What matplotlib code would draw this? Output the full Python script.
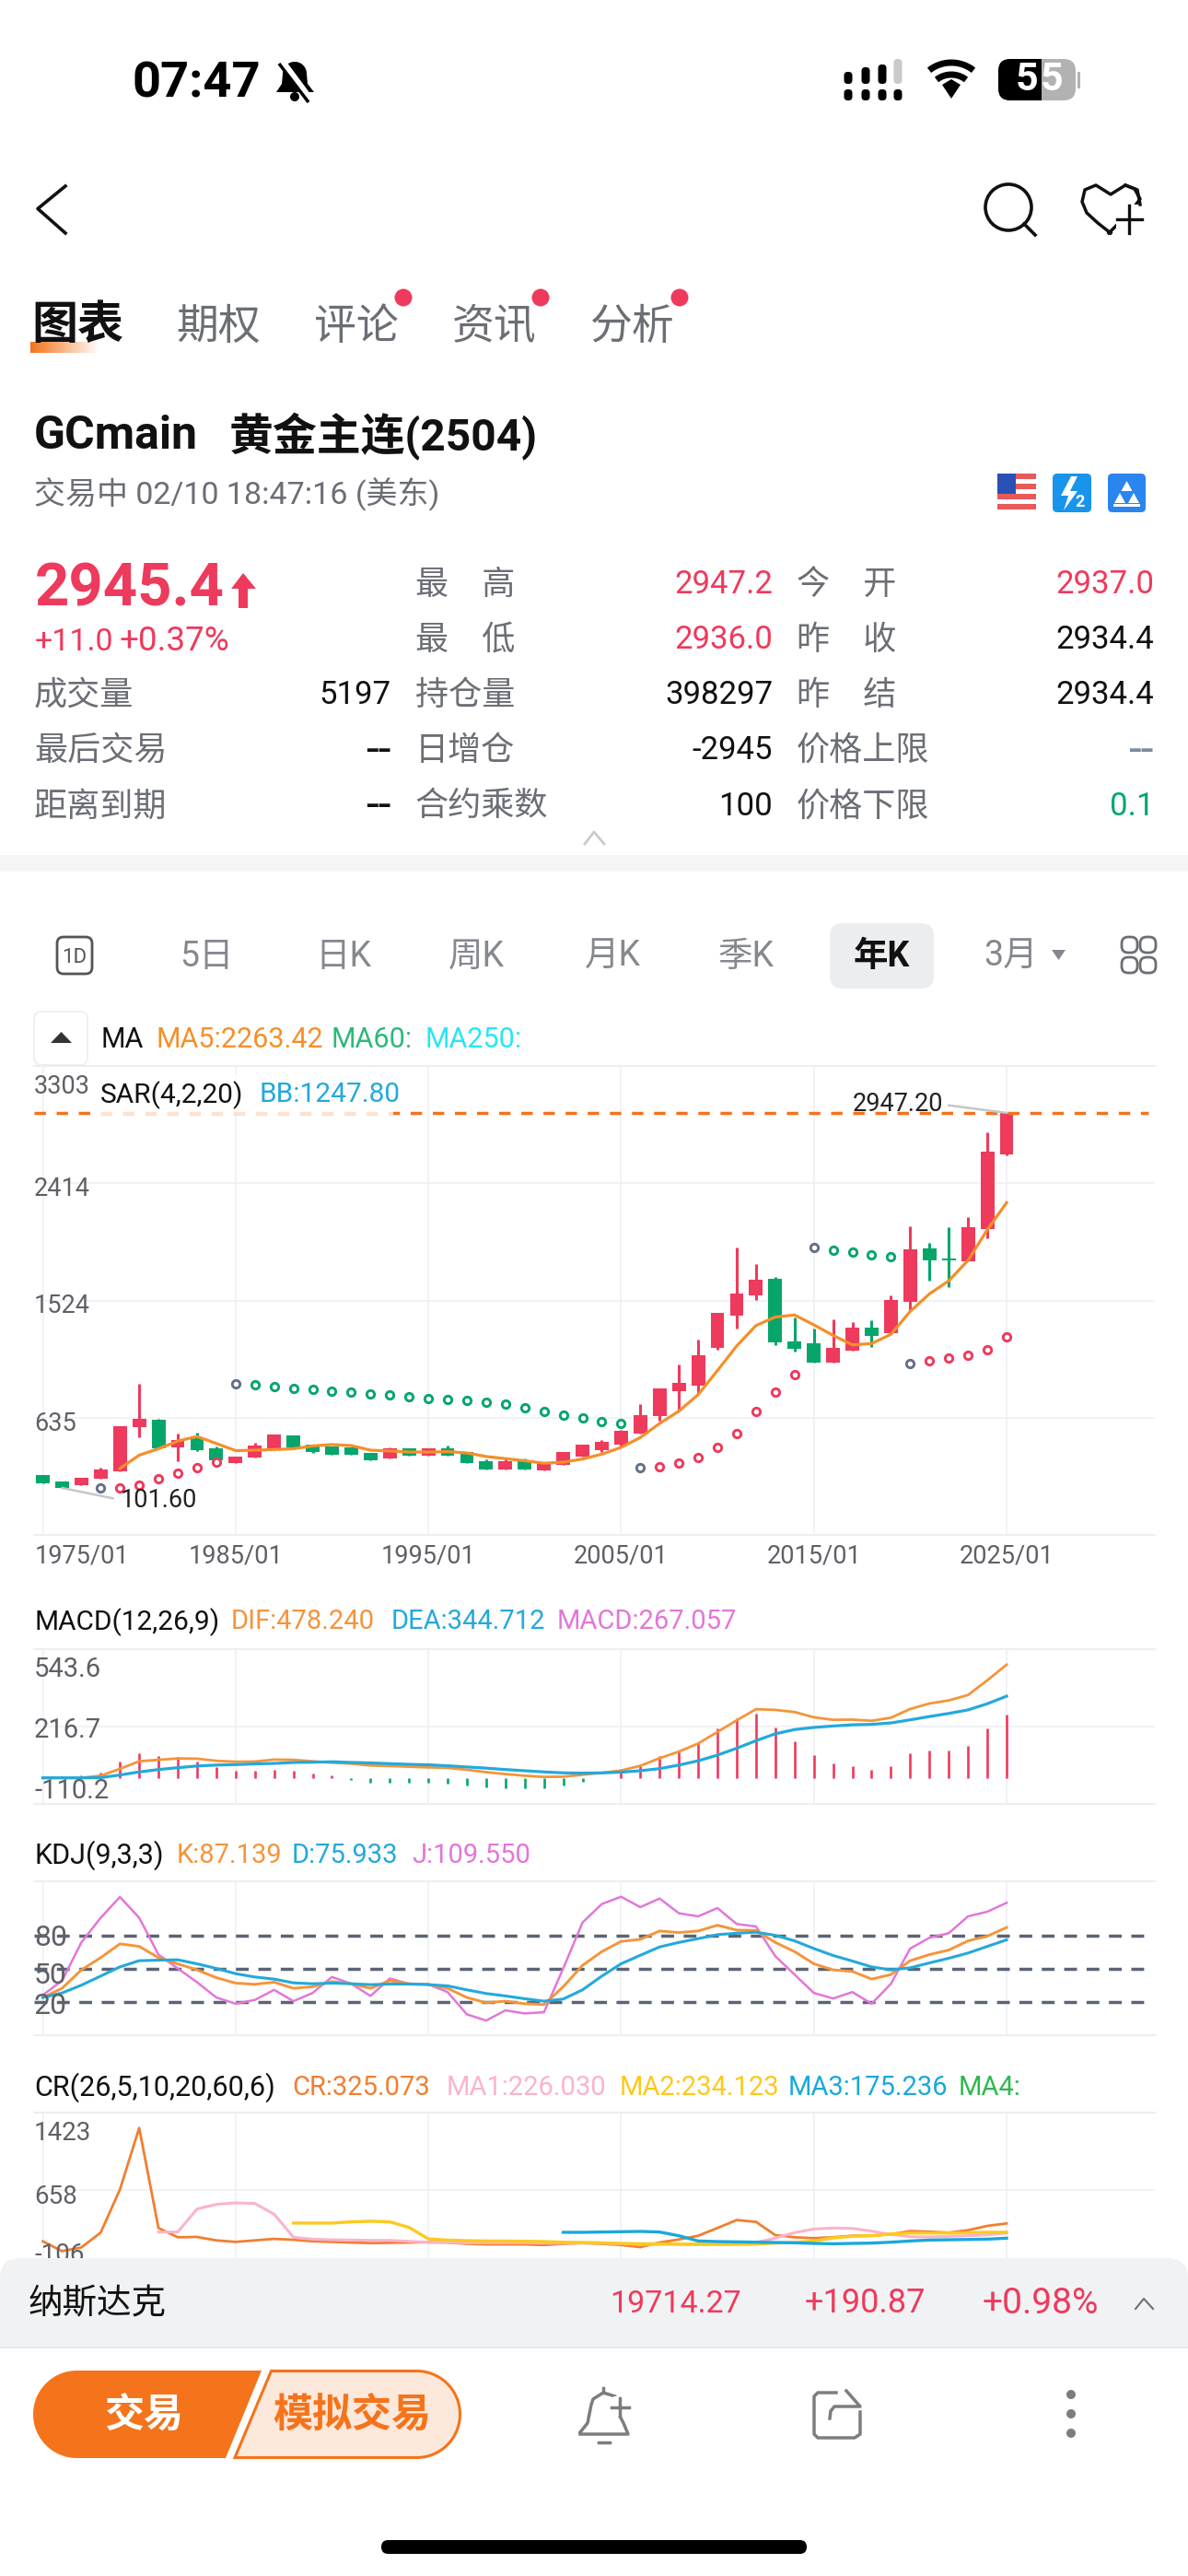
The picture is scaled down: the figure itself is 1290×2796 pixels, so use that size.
import numpy as np
import matplotlib
matplotlib.use('Agg')
import matplotlib.pyplot as plt
from matplotlib.patches import FancyBboxPatch, Polygon, Rectangle, Circle

plt.rcParams['font.family'] = ['Roboto', 'Noto Sans CJK SC', 'DejaVu Sans']
plt.rcParams['lines.scale_dashes'] = False

W, H = 1290, 2796
RED = '#ee3a5c'
GREEN = '#06a66b'
ORANGE = '#f5731a'
GREY = '#6b6e75'
LINE = '#eceef0'

years = np.arange(1975, 2026)
opens = [198, 153, 123, 172, 228, 564, 622, 412, 479, 404, 289, 331, 404, 500, 431, 417, 409, 367, 324, 401,
         345, 399, 377, 302, 244, 308, 233, 279, 340, 391, 431, 516, 644, 836, 879, 1163, 1411, 1564, 1689,
         1216, 1197, 1053, 1144, 1318, 1278, 1513, 1916, 1844, 1823, 2066, 2632]
highs = [200, 153, 180, 254, 570, 895, 628, 511, 522, 417, 342, 444, 508, 500, 431, 417, 409, 367, 409, 401,
         399, 422, 377, 318, 334, 324, 292, 372, 431, 463, 545, 740, 855, 1040, 1230, 1432, 1924, 1799, 1700,
         1392, 1310, 1379, 1363, 1371, 1566, 2087, 1962, 2082, 2154, 2801, 2947.2]
lows = [135, 101.6, 123, 172, 228, 484, 400, 302, 382, 310, 289, 331, 404, 409, 367, 356, 350, 308, 324, 348,
        345, 345, 287, 244, 244, 244, 233, 279, 340, 377, 417, 516, 612, 684, 810, 1147, 1312, 1531, 1184,
        1133, 1050, 1050, 1144, 1171, 1270, 1451, 1676, 1622, 1823, 1999, 2625]
closes = [137, 102, 179, 244, 570, 628, 404, 468, 388, 310, 342, 422, 505, 409, 372, 356, 350, 308, 401, 348,
          399, 345, 287, 244, 302, 244, 292, 372, 431, 452, 537, 655, 855, 898, 1109, 1432, 1574, 1684, 1203,
          1157, 1053, 1165, 1318, 1256, 1531, 1914, 1825, 1828, 2082, 2651, 2945.4]
last_price = 2945.4

ma5 = [249, 350, 399, 457, 492, 439, 385, 388, 393, 399, 420, 431, 423, 388, 382, 374, 374, 377, 367, 340,
       324, 308, 289, 297, 321, 358, 409, 484, 591, 684, 810, 992, 1179, 1334, 1398, 1414, 1339, 1259, 1187,
       1197, 1267, 1441, 1574, 1673, 1828, 2060, 2266]

sar_grey_years = [1978, 1985, 2006, 2015, 2020]
sar_grey = [105, 895, 257, 1924, 1048]
sar_red_years = [1979, 1980, 1981, 1982, 1983, 1984, 2007, 2008, 2009, 2010, 2011, 2012, 2013, 2014,
                 2021, 2022, 2023, 2024, 2025]
sar_red = [105, 123, 172, 217, 254, 294, 265, 289, 334, 406, 511, 679, 826, 960, 1066, 1088, 1109, 1149, 1251]
sar_green_years = list(range(1986, 2006)) + [2016, 2017, 2018, 2019]
sar_green = [885, 871, 858, 847, 836, 826, 815, 805, 794, 783, 773, 765, 754, 738, 709, 679, 655, 631, 607, 588,
             1906, 1889, 1873, 1855]

dif = [0, 0, 0, 9, 38, 70, 76, 82, 81, 72, 68, 69, 77, 76, 70, 64, 60, 52, 50, 47, 44, 42, 34, 24, 16, 9, 4, 5,
       13, 21, 31, 51, 83, 111, 145, 194, 243, 290, 287, 278, 256, 245, 246, 241, 254, 291, 314, 327, 350, 412, 478]
dea = [0, 0, 0, 1, 12, 25, 35, 43, 50, 54, 56, 59, 61, 65, 66, 68, 65, 63, 60, 57, 55, 51, 46, 41, 35, 30, 25, 21,
       20, 21, 24, 30, 39, 54, 72, 96, 125, 157, 186, 204, 213, 219, 224, 226, 232, 245, 259, 272, 287, 313, 345]
macd = [0, 5, 9, 22, 69, 103, 91, 87, 69, 46, 31, 29, 35, 29, 20, 10, -10, -21, -21, -22, -22, -25, -33, -42, -43,
        -44, -44, -33, -16, -3, 29, 52, 91, 114, 152, 207, 250, 272, 212, 156, 95, 60, 49, 35, 51, 103, 116, 116,
        135, 207, 267]

kdj_k = [23.9, 32.2, 48.8, 59.8, 72.3, 70.0, 59.8, 54.3, 48.8, 41.8, 36.9, 35.8, 37.7, 32.2, 33.6, 38.3, 36.3, 32.2,
         39.1, 36.3, 35.8, 32.2, 23.9, 19.2, 20.6, 18.3, 17.5, 33.6, 52.9, 65.3, 74.5, 76.4, 83.9, 82.5, 83.9, 89.1,
         84.7, 84.4, 73.6, 65.3, 54.3, 48.8, 47.4, 40.5, 44.6, 57.1, 62.6, 66.7, 75.0, 79.2, 87.1]
kdj_d = [23.9, 28.0, 35.0, 43.2, 51.5, 57.1, 57.6, 57.9, 54.3, 50.1, 45.4, 42.4, 40.5, 37.1, 36.3, 36.9, 36.3, 35.5,
         36.0, 36.0, 35.5, 34.4, 30.8, 27.5, 25.3, 22.8, 20.6, 22.5, 30.8, 43.2, 54.3, 62.0, 69.5, 73.6, 77.0, 80.6,
         81.9, 82.8, 80.0, 75.0, 68.1, 61.8, 56.8, 51.5, 48.8, 50.7, 55.1, 59.3, 64.0, 70.0, 75.9]
kdj_j = [26.1, 39.1, 73.6, 95.8, 114.6, 95.8, 62.6, 50.1, 37.7, 23.9, 18.3, 21.7, 30.8, 20.6, 28.0, 42.4, 36.3, 25.3,
         41.0, 36.3, 35.8, 28.8, 8.7, 3.1, 12.3, 9.5, 10.6, 50.1, 91.6, 108.2, 114.8, 105.4, 113.2, 99.9, 97.1, 104.6,
         90.2, 88.0, 61.2, 44.6, 28.0, 23.0, 28.8, 18.3, 36.3, 68.1, 77.8, 81.9, 97.1, 101.3, 109.3]

cr = [144, 46, 83, 230, 658, 1270, 276, 184, 187, 153, 138, 153, 168, 159, 144, 138, 132, 126, 129, 132, 135, 132,
      119, 113, 113, 113, 107, 119, 126, 119, 107, 86, 132, 162, 199, 276, 355, 337, 205, 184, 175, 184, 199, 199,
      214, 245, 239, 230, 254, 297, 321]
cr_ma1 = [236, 236, 465, 511, 526, 520, 413, 184, 165, 159, 156, 153, 153, 144, 132, 132, 129, 129, 129, 129, 126,
          126, 129, 126, 119, 113, 113, 113, 110, 113, 119, 132, 175, 230, 266, 276, 272, 245, 211, 190, 187, 193,
          199, 208, 226]
cr_ma2 = [325, 325, 325, 337, 343, 337, 282, 168, 156, 150, 147, 147, 144, 141, 135, 132, 129, 123, 119, 119, 116,
          116, 113, 113, 116, 126, 132, 147, 178, 193, 199, 217, 226, 226, 226, 230, 233, 234]
cr_ma3 = [233, 233, 236, 239, 242, 236, 199, 147, 141, 138, 135, 132, 129, 123, 119, 123, 126, 135, 147, 156, 159,
          162, 165, 175]

xtick_years = [1975, 1985, 1995, 2005, 2015, 2025]
xtick_labels = ['1975/01', '1985/01', '1995/01', '2005/01', '2015/01', '2025/01']

tabs = ['图表', '期权', '评论', '资讯', '分析']
periods = ['5日', '日K', '周K', '月K', '季K', '年K', '3月']

rows_left = [('成交量', '5197'), ('最后交易', '--'), ('距离到期', '--')]
rows_mid = [('最\u3000高', '2947.2', RED), ('最\u3000低', '2936.0', RED), ('持仓量', '398297', '#111111'),
            ('日增仓', '-2945', '#111111'), ('合约乘数', '100', '#111111')]
rows_right = [('今\u3000开', '2937.0', RED), ('昨\u3000收', '2934.4', '#111111'), ('昨\u3000结', '2934.4', '#111111'),
              ('价格上限', '--', '#7b8aa0'), ('价格下限', '0.1', GREEN)]

fig = plt.figure(figsize=(W / 100, H / 100), dpi=100, facecolor='white')


def pixel_axes(z):
    ax = fig.add_axes([0, 0, 1, 1], zorder=z)
    ax.set_xlim(0, W)
    ax.set_ylim(H, 0)
    ax.axis('off')
    ax.patch.set_alpha(0)
    return ax


bg = pixel_axes(0)
fg = pixel_axes(10)

X_LEFT, X_RIGHT = 36.5, 1254
PX_PER_YEAR = 20.93


def panel(top, bottom, ylim, yticks):
    ax = fig.add_axes([X_LEFT / W, 1 - bottom / H, (X_RIGHT - X_LEFT) / W, (bottom - top) / H], zorder=5)
    ax.patch.set_alpha(0)
    ax.set_xlim(1975 - (46.5 - X_LEFT) / PX_PER_YEAR, 1975 + (X_RIGHT - 46.5) / PX_PER_YEAR)
    ax.set_ylim(*ylim)
    ax.set_xticks(xtick_years)
    ax.set_yticks(yticks)
    ax.tick_params(length=0, labelbottom=False, labelleft=False)
    ax.grid(True, color='#eeeff1', lw=1.1)
    ax.set_axisbelow(True)
    for side in ('left', 'right'):
        ax.spines[side].set_visible(False)
    for side in ('top', 'bottom'):
        ax.spines[side].set_color(LINE)
        ax.spines[side].set_linewidth(1.5)
    return ax


def txt(x, y, s, size=25, color='#111111', ha='left', weight='normal', ax=None, z=20):
    # va=center sits a little high for these fonts
    (ax or fg).text(x, y + 2.5, s, fontsize=size, color=color, ha=ha, va='center', weight=weight, zorder=z)


def rrect(ax, x0, y0, x1, y1, r, **kw):
    p = FancyBboxPatch((x0, y0), x1 - x0, y1 - y0, boxstyle=f'round,pad=0,rounding_size={r}', **kw)
    ax.add_patch(p)
    return p


def arc(cx, cy, r, a1, a2, n=40):
    a = np.radians(np.linspace(a1, a2, n))
    return cx + r * np.cos(a), cy + r * np.sin(a)


# main candles
ax = panel(1157, 1665.6, (-252, 3303), [635, 1524, 2414])
colors = [RED if c >= o else GREEN for o, c in zip(opens, closes)]
ax.vlines(years, lows, highs, colors=colors, lw=2.2, zorder=3)
ax.bar(years, np.array(closes) - np.array(opens), bottom=opens, width=0.71, color=colors, zorder=3)
ax.plot(years[4:], ma5, color='#f58f2a', lw=2.3, zorder=4)
ax.scatter(sar_red_years, sar_red, s=36, facecolors='white', edgecolors=RED, linewidths=2.1, zorder=5)
ax.scatter(sar_green_years, sar_green, s=36, facecolors='white', edgecolors=GREEN, linewidths=2.1, zorder=5)
ax.scatter(sar_grey_years, sar_grey, s=36, facecolors='white', edgecolors='#65708a', linewidths=2.1, zorder=5)
ax.axhline(last_price, xmax=0.994, color='#f4721c', lw=2.5, ls=(0, (8.9, 8.4)), zorder=6)
ax.annotate('101.60', xy=(1976, 101.6), xytext=(131, 1628), textcoords=fg.transData, fontsize=19.5, color='#222222',
            va='center', annotation_clip=False, zorder=7,
            arrowprops=dict(arrowstyle='-', color='#c5c6c8', lw=1.8, shrinkA=4, shrinkB=0, relpos=(0, 0.5)))
ax.annotate('2947.20', xy=(2025, 2947.2), xytext=(926, 1199), textcoords=fg.transData, fontsize=19.5, color='#222222',
            va='center', annotation_clip=False, zorder=7,
            arrowprops=dict(arrowstyle='-', color='#c5c6c8', lw=1.8, shrinkA=2, shrinkB=0, relpos=(1, 0.5)))

for y, s in [(1177, '3303'), (1288, '2414'), (1415, '1524'), (1543, '635')]:
    txt(37, y, s, 19.5, '#5f6066')
txt(38, 1686, xtick_labels[0], 19.5, '#5f6066')
for yr, s in zip(xtick_years[1:], xtick_labels[1:]):
    txt(46.5 + (yr - 1975) * PX_PER_YEAR, 1686, s, 19.5, '#5f6066', ha='center')

fg.add_patch(Rectangle((103, 1166), 324, 44, fc='white', alpha=0.8, ec='none', zorder=15))
rrect(fg, 37, 1098, 95, 1156, 8, fc='white', ec='#eeeef0', lw=1.2, zorder=15)
fg.add_patch(Polygon([(55, 1132), (78, 1132), (66.5, 1120)], fc='#333333', zorder=16))
txt(110, 1126, 'MA', 22)
txt(169, 1126, 'MA5:2263.42', 22, '#f58f2a')
txt(359, 1126, 'MA60:', 22, '#2db87a')
txt(461, 1126, 'MA250:', 22, '#27e6f5')
txt(108.5, 1186, 'SAR(4,2,20)', 21.5)
txt(281, 1186, 'BB:1247.80', 21.5, '#23a9db')

# MACD
ax = panel(1790, 1958, (-110.2, 543.6), [216.7])
macd_colors = [RED if v >= 0 else GREEN for v in macd]
ax.vlines(years, 0, macd, colors=macd_colors, lw=1.9, zorder=3)
ax.plot(years, dif, color='#f5943a', lw=2.0, zorder=4)
ax.plot(years, dea, color='#23a9db', lw=2.3, zorder=4)
for y, s in [(1810, '543.6'), (1875, '216.7'), (1941, '-110.2')]:
    txt(37, y, s, 21, '#5f6066')
txt(37, 1758, 'MACD(12,26,9)', 21.5)
txt(251, 1758, 'DIF:478.240', 21, '#f5943a')
txt(425, 1758, 'DEA:344.712', 21, '#23a9db')
txt(605, 1758, 'MACD:267.057', 21, '#e277d8')

# KDJ
ax = panel(2042, 2209, (-10.1, 128.7), [])
for level in [80, 50, 20]:
    ax.axhline(level, xmax=0.994, color='#5b6475', lw=2.5, ls=(0, (10, 7.5)), zorder=2)
ax.plot(years, kdj_j, color='#e277d8', lw=1.8, zorder=3)
ax.plot(years, kdj_k, color='#f5943a', lw=2.1, zorder=4)
ax.plot(years, kdj_d, color='#23a9db', lw=2.2, zorder=5)
for y, s in [(2101, '80'), (2142, '50'), (2175, '20')]:
    txt(37, y, s, 23, '#5f6066')
txt(37, 2011, 'KDJ(9,3,3)', 22)
txt(192, 2011, 'K:87.139', 21, '#f5943a')
txt(317, 2011, 'D:75.933', 21, '#23a9db')
txt(447, 2011, 'J:109.550', 21, '#e277d8')

# CR
ax = panel(2293, 2460, (-106, 1423), [658])
ax.plot(years, cr, color='#f27e30', lw=2.0, zorder=3)
ax.plot(years[6:], cr_ma1, color='#fbb3cc', lw=2.2, zorder=4)
ax.plot(years[13:], cr_ma2, color='#fdc91c', lw=2.4, zorder=5)
ax.plot(years[27:], cr_ma3, color='#1aa8dc', lw=2.4, zorder=6)
for y, s in [(2313, '1423'), (2382, '658'), (2445, '-106')]:
    txt(37, y, s, 20, '#5f6066')
txt(37, 2263, 'CR(26,5,10,20,60,6)', 22)
txt(317, 2263, 'CR:325.073', 21, '#f27e30')
txt(485, 2263, 'MA1:226.030', 21, '#fbb3cc')
txt(673, 2263, 'MA2:234.123', 21, '#fdc91c')
txt(856, 2263, 'MA3:175.236', 21, '#1aa8dc')
txt(1041, 2263, 'MA4:', 21, '#2db84d')

# status bar
txt(143, 88, '07:47', 39, '#000000', weight='bold', ax=bg)
bell = [(300, 100), (306, 91), (307, 80)] + list(zip(*arc(320, 80, 13, 180, 360))) + [(334, 91), (341, 100)]
bg.add_patch(Polygon(bell, fc='black', ec='none'))
bg.add_patch(Circle((320, 105), 5, fc='black'))
bg.plot([306, 338], [66, 109], color='white', lw=5, solid_capstyle='butt')
bg.plot([303, 335], [69, 111], color='black', lw=2.5, solid_capstyle='butt')
for x, top, col in zip([921, 940, 958, 975], [78, 73, 70, 64], ['black', 'black', 'black', '#c9c9c9']):
    rrect(bg, x - 4.5, top, x + 4.5, 91, 4, fc=col, ec='none')
    rrect(bg, x - 4.5, 97, x + 4.5, 109, 4, fc='black', ec='none')
for r in (26, 39):
    xs, ys = arc(1033, 107, r, 232, 308)
    bg.plot(xs, ys, color='black', lw=5, solid_capstyle='butt')
bg.add_patch(Polygon([(1033, 107), (1023, 92), (1033, 86), (1043, 92)], fc='black'))
rrect(bg, 1084, 64, 1168, 109, 13, fc='#b2b2b2', ec='none')
rrect(bg, 1084, 64, 1131, 109, 13, fc='black', ec='none')
bg.add_patch(Rectangle((1118, 64), 13, 45, fc='black', ec='none'))
bg.add_patch(Rectangle((1170, 78), 3, 18, fc='#b2b2b2', ec='none'))
txt(1115, 84, '5', 31, 'white', ha='center', weight='bold', ax=bg, z=3)
txt(1142, 84, '5', 31, 'white', ha='center', weight='bold', ax=bg, z=3)

# nav bar
bg.plot([71, 41, 71], [202, 226.5, 253], color='#111111', lw=2.6)
bg.add_patch(Circle((1095, 225), 25, fc='none', ec='#111111', lw=2.6))
bg.plot([1112, 1124], [243, 255], color='#111111', lw=2.6)
hx = [1204, 1222, 1232, 1238, 1232, 1222, 1206, 1190, 1178, 1175, 1180, 1192, 1206]
hy = [253, 235, 224, 216, 205, 201, 211, 201, 206, 219, 231, 242, 253]
bg.plot(hx, hy, color='#111111', lw=2.5)
bg.add_patch(Rectangle((1212, 222), 28, 33, fc='white', ec='none', zorder=2))
bg.plot([1226, 1226], [223, 253], color='#111111', lw=2.4, zorder=3)
bg.plot([1213, 1240], [238, 238], color='#111111', lw=2.4, zorder=3)
bg.plot([1222, 1235, 1238], [201, 206, 222], color='#111111', lw=2.5, zorder=3)

# tabs
for i in range(37):
    bg.add_patch(Rectangle((33 + 2 * i, 371), 2, 12, fc=ORANGE, alpha=1 - i / 37, ec='none'))
for i, (label, x) in enumerate(zip(tabs, [84, 237, 387, 537, 687])):
    if i == 0:
        txt(x, 352, label, 36, '#111111', ha='center', weight='bold')
    else:
        txt(x, 352, label, 33, GREY, ha='center')
for x in [438, 587, 738]:
    bg.add_patch(Circle((x, 323), 9.5, fc=RED))

# header
txt(37, 471, 'GCmain', 36, '#111111', weight='bold')
txt(249, 471, '黄金主连(2504)', 34.5, '#111111', weight='bold')
txt(37, 533, '交易中 02/10 18:47:16 (美东)', 24.5, GREY)

rrect(bg, 1083, 514, 1125, 556, 4, fc='white', ec='none')
for y in [514, 525, 536, 547]:
    bg.add_patch(Rectangle((1083, y), 42, 5.5, fc='#e85a5a', ec='none'))
bg.add_patch(Rectangle((1083, 514), 20, 22, fc='#2a4fb5', ec='none'))
rrect(bg, 1143, 514, 1185, 556, 5, fc='#1894ea', ec='none')
bg.add_patch(Polygon([(1163, 517), (1152, 538), (1160, 538), (1155, 554), (1170, 533), (1162, 533), (1170, 517)],
                     fc='white', zorder=3))
txt(1172, 543, '2', 13, 'white', ha='center', weight='bold', ax=bg, z=3)
rrect(bg, 1203, 514, 1244, 556, 5, fc='#2a85ee', ec='none')
for px, py in [(1223.5, 522), (1216, 535), (1231, 535)]:
    bg.add_patch(Polygon([(px - 6, py + 11), (px + 6, py + 11), (px, py)], fc='white', zorder=3))
bg.add_patch(Rectangle((1209, 547), 29, 3, fc='white', zorder=3))

# quote table
txt(38, 638, '2945.4', 47, RED, weight='bold')
bg.add_patch(Polygon([(264, 622), (278, 639), (269, 639), (269, 660), (259, 660), (259, 639), (251, 639)], fc=RED))
txt(38, 694, '+11.0', 24.5, RED)
txt(130, 694, '+0.37%', 26.5, RED)


def value_size(val):
    return 36 if val == '--' else 25


for (label, val), y in zip(rows_left, [752, 812, 873]):
    txt(37, y, label, 26, GREY)
    txt(425, y, val, value_size(val), '#111111', ha='right')
for (label, val, col), y in zip(rows_mid, [632, 692, 752, 812, 873]):
    txt(451, y, label, 26, GREY)
    txt(839, y, val, value_size(val), col, ha='right')
for (label, val, col), y in zip(rows_right, [632, 692, 752, 812, 873]):
    txt(865, y, label, 26, GREY)
    txt(1253, y, val, value_size(val), col, ha='right')
bg.plot([635, 645, 656], [916, 903, 916], color='#c8cacd', lw=2)
bg.add_patch(Rectangle((0, 928), W, 18, fc='#f4f5f6', ec='none'))

# period tabs
rrect(bg, 901, 1002, 1014, 1073, 14, fc='#ecedef', ec='none')
rrect(bg, 62, 1017, 100, 1057, 7, fc='white', ec='#555555', lw=2)
txt(81, 1037, '1D', 16, '#555555', ha='center')
for label, x in zip(periods, [224, 373, 517, 665, 810, 957, 1098]):
    if label == '年K':
        txt(x, 1036, label, 27, '#111111', ha='center', weight='bold')
    else:
        txt(x, 1036, label, 27, '#85888f', ha='center')
bg.add_patch(Polygon([(1142, 1031), (1157, 1031), (1149.5, 1042)], fc='#85888f'))
for x0, y0 in [(1218, 1017), (1238, 1017), (1218, 1039), (1238, 1039)]:
    rrect(bg, x0, y0, x0 + 17, y0 + 17, 7, fc='white', ec='#6b6e75', lw=2)

# bottom bar
rrect(fg, 0, 2451, W, 2600, 22, fc='#f1f2f4', ec='none', zorder=30)
fg.add_patch(Rectangle((0, 2548), W, H - 2548, fc='white', ec='none', zorder=31))
fg.plot([0, W], [2548, 2548], color='#e4e5e7', lw=1.2, zorder=32)
txt(31, 2498, '纳斯达克', 27, '#111111', z=33)
txt(805, 2498, '19714.27', 24.5, RED, ha='right', z=33)
txt(1005, 2498, '+190.87', 26, RED, ha='right', z=33)
txt(1193, 2498, '+0.98%', 28, RED, ha='right', z=33)
fg.plot([1233, 1242, 1252], [2506, 2495, 2506], color='#6b6e75', lw=1.5, zorder=33)

trade_left = list(zip(*arc(83.5, 2620.5, 47.5, 90, 270))) + [(284, 2573), (245, 2668)]
fg.add_patch(Polygon(trade_left, fc=ORANGE, ec='none', zorder=33))
trade_right = [(294.5, 2573.5)] + list(zip(*arc(452.5, 2620.5, 47, 270, 450))) + [(255, 2667.5)]
fg.add_patch(Polygon(trade_right, fc='#fde8dc', ec=ORANGE, lw=2.2, zorder=33))
txt(156, 2620, '交易', 31, 'white', ha='center', weight='bold', z=34)
txt(382.5, 2620, '模拟交易', 31, ORANGE, ha='center', weight='bold', z=34)

ICON = '#7d7d7d'
fg.plot([630, 638, 642, 644, 655, 668, 669, 677, 682, 630], [2640, 2630, 2610, 2604, 2597, 2601, 2615, 2630, 2642, 2642],
        color=ICON, lw=2.5, zorder=33)
fg.plot([650, 662], [2651, 2651], color=ICON, lw=2.5, zorder=33)
fg.plot([655, 655], [2592, 2597], color=ICON, lw=2.5, zorder=33)
fg.add_patch(Rectangle((666, 2601), 18, 22, fc='white', ec='none', zorder=33))
fg.plot([673, 673], [2603, 2622], color=ICON, lw=2.5, zorder=34)
fg.plot([664, 683], [2613, 2613], color=ICON, lw=2.5, zorder=34)
fg.plot([908, 888, 884, 884, 888, 928, 934, 934], [2597, 2597, 2601, 2642, 2646, 2646, 2642, 2618], color=ICON, lw=2.5, zorder=33)
fg.plot([919, 934, 920, 906, 902, 901], [2595, 2612, 2612, 2612, 2617, 2625], color=ICON, lw=2.5, zorder=33)
for y in [2599, 2620, 2641]:
    fg.add_patch(Circle((1163, y), 5, fc=ICON, ec='none', zorder=33))
rrect(fg, 414, 2757, 876, 2772, 7.5, fc='black', ec='none', zorder=33)

fig.savefig('out.png', dpi=100, facecolor='white')
